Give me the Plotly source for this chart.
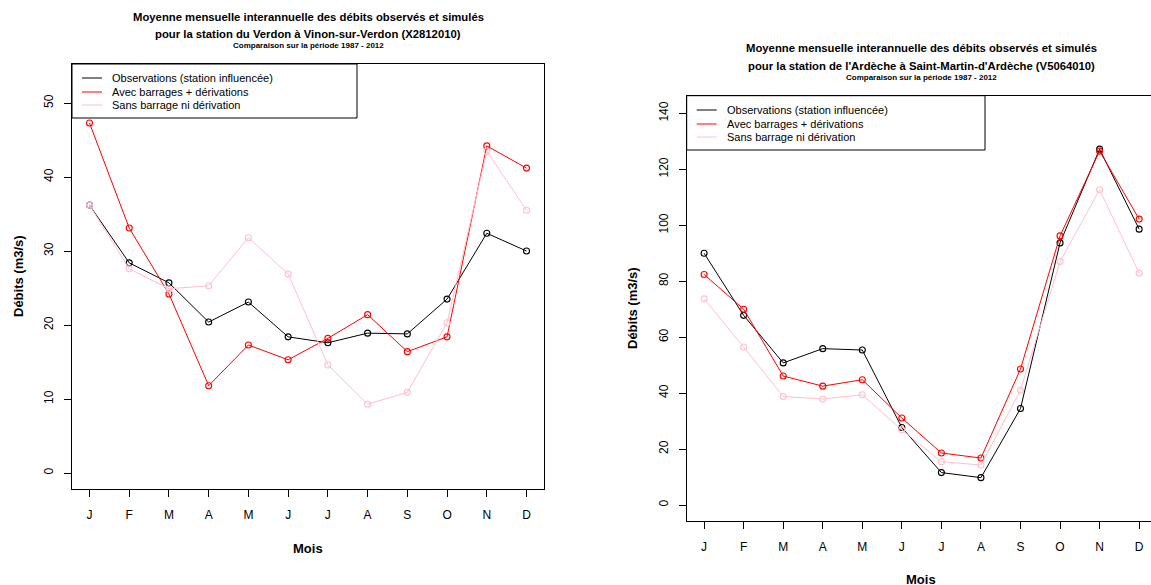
import plotly.graph_objects as go

months = ["J", "F", "M", "A", "M", "J", "J", "A", "S", "O", "N", "D"]
month_idx = list(range(1, 13))

# Verdon à Vinon-sur-Verdon (X2812010)
verdon_obs = [36.2, 28.4, 25.7, 20.4, 23.1, 18.4, 17.6, 18.9, 18.8, 23.5, 32.4, 30.0]
verdon_avec = [47.3, 33.1, 24.2, 11.8, 17.3, 15.3, 18.2, 21.4, 16.4, 18.4, 44.2, 41.2]
verdon_sans = [36.2, 27.6, 24.9, 25.3, 31.8, 26.9, 14.6, 9.3, 10.9, 20.3, 43.5, 35.5]

# Ardèche à Saint-Martin-d'Ardèche (V5064010)
ardeche_obs = [90.0, 67.8, 50.8, 55.9, 55.4, 27.7, 11.6, 9.8, 34.5, 93.7, 127.2, 98.6]
ardeche_avec = [82.4, 70.0, 46.1, 42.5, 44.8, 31.1, 18.6, 16.8, 48.6, 96.2, 126.5, 102.2]
ardeche_sans = [73.7, 56.5, 38.8, 37.9, 39.4, 26.9, 15.5, 14.3, 41.0, 87.0, 112.7, 82.9]

series_names = ["Observations (station influencée)", "Avec barrages + dérivations", "Sans barrage ni dérivation"]
series_colors = ["#000000", "#FF0000", "#FFC0CB"]

W, H = 1151, 585
FONT = "Liberation Sans, Arial, sans-serif"

def px(x):
    return x / W

def py(y):
    return 1 - y / H

fig = go.Figure()

panels = [
    dict(xa="x", ya="y", data=[verdon_obs, verdon_avec, verdon_sans]),
    dict(xa="x2", ya="y2", data=[ardeche_obs, ardeche_avec, ardeche_sans]),
]
for p in panels:
    for name, col, vals in zip(series_names, series_colors, p["data"]):
        fig.add_trace(go.Scatter(
            x=month_idx, y=vals, mode="lines+markers", name=name,
            line=dict(color=col, width=1),
            marker=dict(symbol="circle-open", size=6, color=col, line=dict(width=1.1, color=col)),
            xaxis=p["xa"], yaxis=p["ya"], showlegend=False, cliponaxis=False,
        ))

axis_common = dict(
    showgrid=False, zeroline=False, showline=True, linecolor="black", linewidth=1,
    ticks="outside", ticklen=7, tickwidth=1, tickcolor="black",
    tickfont=dict(family=FONT, size=12, color="black"),
)

fig.update_layout(
    width=W, height=H, margin=dict(l=0, r=0, t=0, b=0),
    paper_bgcolor="white", plot_bgcolor="white", showlegend=False,
    xaxis=dict(domain=[px(72), px(544)], range=[0.56, 12.44], tickvals=month_idx, ticktext=months,
               mirror=True, anchor="y", ticklabelstandoff=8, **axis_common),
    yaxis=dict(domain=[py(489), py(64)], range=[-2.16, 55.27], tickvals=[0, 10, 20, 30, 40, 50],
               tickangle=-90, mirror=True, anchor="x", ticklabelstandoff=6, **axis_common),
    xaxis2=dict(domain=[px(686.7), 1.0], range=[0.56, 12.30], tickvals=month_idx, ticktext=months,
                mirror=True, anchor="y2", ticklabelstandoff=8, **axis_common),
    yaxis2=dict(domain=[py(521), py(95.7)], range=[-5.7, 146.3], tickvals=[0, 20, 40, 60, 80, 100, 120, 140],
                tickangle=-90, mirror=False, anchor="x2", ticklabelstandoff=6, **axis_common),
)

# Titles
def title_block(cx, y1, y2, y3, station):
    fig.add_annotation(x=px(cx), y=py(y1), xref="paper", yref="paper", showarrow=False,
                       text="<b>Moyenne mensuelle interannuelle des débits observés et simulés</b>",
                       font=dict(family=FONT, size=11.3, color="black"), xanchor="center", yanchor="middle")
    fig.add_annotation(x=px(cx), y=py(y2), xref="paper", yref="paper", showarrow=False,
                       text="<b>" + station + "</b>",
                       font=dict(family=FONT, size=11.3, color="black"), xanchor="center", yanchor="middle")
    fig.add_annotation(x=px(cx), y=py(y3), xref="paper", yref="paper", showarrow=False,
                       text="<b>Comparaison sur la période 1987 - 2012</b>",
                       font=dict(family=FONT, size=8, color="black"), xanchor="center", yanchor="middle")

title_block(308, 17, 34, 46, "pour la station du Verdon à Vinon-sur-Verdon (X2812010)")
title_block(921, 48, 66, 78, "pour la station de l'Ardèche à Saint-Martin-d'Ardèche (V5064010)")

# Axis titles
for cx, cy, mx, my in [(18, 276, 308, 548), (632, 308, 921, 579)]:
    fig.add_annotation(x=px(cx), y=py(cy), xref="paper", yref="paper", showarrow=False, textangle=-90,
                       xanchor="center", yanchor="middle",
                       text="<b>Débits (m3/s)</b>", font=dict(family=FONT, size=13, color="black"))
    fig.add_annotation(x=px(mx), y=py(my), xref="paper", yref="paper", showarrow=False,
                       xanchor="center", yanchor="middle",
                       text="<b>Mois</b>", font=dict(family=FONT, size=13, color="black"))

# Legends (boxed, top-left of each plot region)
def legend_box(x0, y0, x1, y1, rows):
    fig.add_shape(type="rect", xref="paper", yref="paper", x0=px(x0), x1=px(x1), y0=py(y1), y1=py(y0),
                  line=dict(color="black", width=1), fillcolor="rgba(0,0,0,0)")
    for (ry, name, col) in rows:
        fig.add_shape(type="line", xref="paper", yref="paper", x0=px(x0 + 10), x1=px(x0 + 30),
                      y0=py(ry), y1=py(ry), line=dict(color=col, width=1))
        fig.add_annotation(x=px(x0 + 38), y=py(ry), xref="paper", yref="paper", showarrow=False,
                           text=name, xanchor="left", yanchor="middle",
                           font=dict(family=FONT, size=11, color="black"))

legend_box(72, 64, 357, 118, [(78, series_names[0], series_colors[0]),
                              (92, series_names[1], series_colors[1]),
                              (105, series_names[2], series_colors[2])])
legend_box(686.7, 95.7, 985, 150, [(110, series_names[0], series_colors[0]),
                                   (124, series_names[1], series_colors[1]),
                                   (137, series_names[2], series_colors[2])])

fig.write_html(
    "out.html",
    config={"displayModeBar": False},
    post_script="document.body.style.margin='0';document.body.style.overflow='hidden';",
)
